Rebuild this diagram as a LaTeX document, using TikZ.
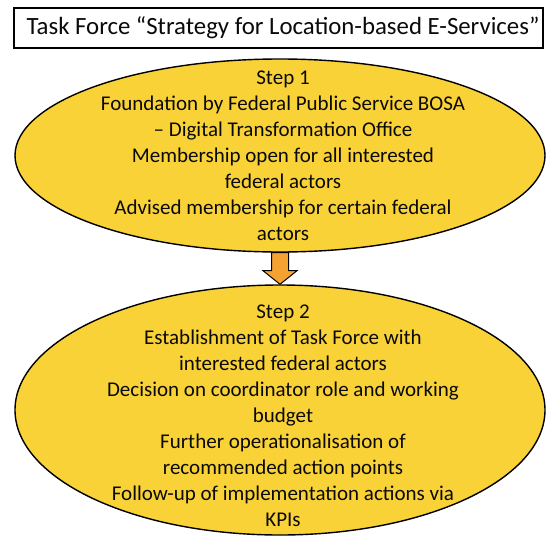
\documentclass[tikz,border=0pt]{standalone}
\usepackage{fontspec}
\setmainfont{Carlito}
\usetikzlibrary{shapes.geometric,calc}
\definecolor{stepfill}{RGB}{249,210,56}
\definecolor{arrowfill}{RGB}{245,162,50}
\definecolor{inkc}{RGB}{10,10,10}
\tikzset{
  titlebox/.style={draw=black, line width=1.6pt, fill=white, minimum width=529pt, minimum height=40pt, inner sep=0pt, text=inkc, font=\fontsize{24.8}{28}\selectfont},
  stepell/.style={ellipse, draw=black, line width=1.4pt, fill=stepfill, inner sep=0pt},
  steptext/.style={align=center, text=inkc, font=\fontsize{21}{26}\selectfont, inner sep=0pt},
  flowarrow/.style={draw=black, line width=1pt, fill=arrowfill, line join=miter}
}
\begin{document}
\begin{tikzpicture}[x=1pt,y=-1pt]
\useasboundingbox (0,0) rectangle (546,538);
\node[titlebox] (title) at (278.5,28) {\hspace*{9pt}Task Force “Strategy for Location-based E-Services”};
\node[stepell, minimum width=530pt, minimum height=193pt] (e1) at (280,155.5) {};
\node[steptext] (t1) at (283,156) {Step 1\\Foundation by Federal Public Service BOSA\\– Digital Transformation Office\\Membership open for all interested\\federal actors\\Advised membership for certain federal\\actors};
\node[stepell, minimum width=530pt, minimum height=250pt] (e2) at (280,410) {};
\node[steptext] (t2) at (283,416) {Step 2\\Establishment of Task Force with\\interested federal actors\\Decision on coordinator role and working\\budget\\Further operationalisation of\\recommended action points\\Follow-up of implementation actions via\\KPIs};
\draw[flowarrow]
  ($(e1.south)+(-8.5,0)$) -- ($(e1.south)+(8.5,0)$) -- ($(e1.south)+(8.5,18)$)
  -- ($(e1.south)+(17,18)$) -- (e2.north) -- ($(e1.south)+(-17,18)$)
  -- ($(e1.south)+(-8.5,18)$) -- cycle;
\end{tikzpicture}
\end{document}
